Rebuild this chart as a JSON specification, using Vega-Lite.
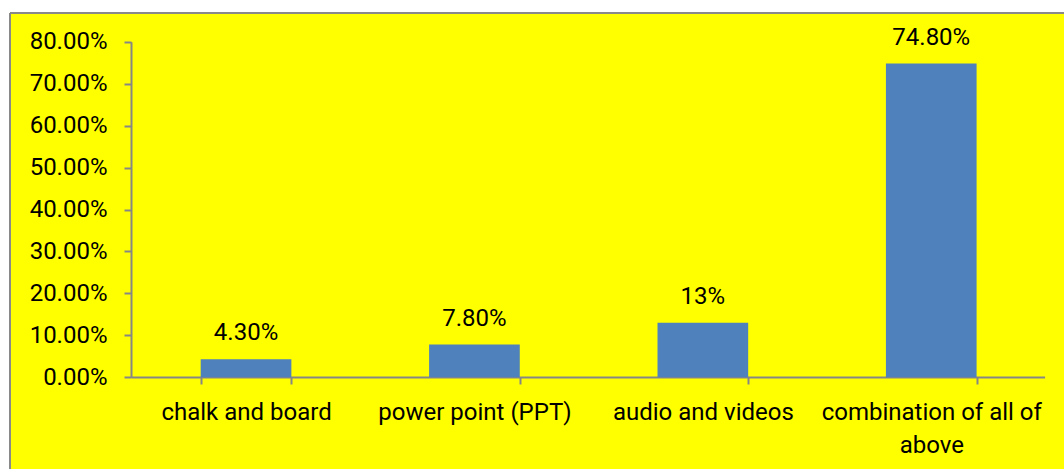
{
  "$schema": "https://vega.github.io/schema/vega-lite/v6.json",
  "autosize": "none",
  "width": 1054,
  "height": 456,
  "padding": {"left": 10, "top": 13, "right": 0, "bottom": 0},
  "background": "white",
  "config": {
    "view": {"fill": "#FFFF00", "stroke": "#898989", "strokeWidth": 2, "strokeDash": [1054, 1510, 456, 0]},
    "font": "Roboto"
  },
  "data": {
    "values": [
      {"category": "chalk and board", "value": 0.043, "label": "4.30%"},
      {"category": "power point (PPT)", "value": 0.078, "label": "7.80%"},
      {"category": "audio and videos", "value": 0.13, "label": "13%"},
      {"category": "combination of all of above", "value": 0.748, "label": "74.80%"}
    ]
  },
  "encoding": {
    "x": {
      "field": "category",
      "type": "nominal",
      "sort": null,
      "scale": {"paddingInner": 0.603, "paddingOuter": 0.6088, "align": 0.6857},
      "axis": {
        "title": null,
        "offset": -92,
        "labelAngle": 0,
        "tickBand": "extent",
        "tickSize": 7,
        "tickWidth": 2,
        "tickColor": "#868686",
        "domainColor": "#868686",
        "domainWidth": 2,
        "domainDash": [913.6, 140.4],
        "domainDashOffset": 933,
        "labelPadding": 16,
        "labelFont": "Roboto",
        "labelFontSize": 24,
        "labelColor": "#000000",
        "labelLimit": 400,
        "labelLineHeight": 33,
        "labelExpr": "datum.label == 'combination of all of above' ? ['combination of all of', 'above'] : datum.label"
      }
    },
    "y": {
      "field": "value",
      "type": "quantitative",
      "scale": {"domain": [-0.2186, 0.8686], "nice": false, "zero": false},
      "axis": {
        "title": null,
        "offset": -121,
        "values": [0, 0.1, 0.2, 0.3, 0.4, 0.5, 0.6, 0.7, 0.8],
        "format": ".2%",
        "grid": false,
        "tickSize": 7,
        "tickWidth": 2,
        "tickColor": "#868686",
        "domainColor": "#868686",
        "domainWidth": 2,
        "domainDash": [335.5, 120.5],
        "domainDashOffset": 364.3,
        "labelPadding": 17,
        "labelFont": "Roboto",
        "labelFontSize": 24,
        "labelColor": "#000000"
      }
    }
  },
  "layer": [
    {"mark": {"type": "bar", "color": "#4F81BD"}},
    {
      "mark": {"type": "text", "dy": -19, "baseline": "alphabetic", "fontSize": 24, "font": "Roboto", "color": "#000000"},
      "encoding": {"text": {"field": "label"}}
    }
  ]
}
